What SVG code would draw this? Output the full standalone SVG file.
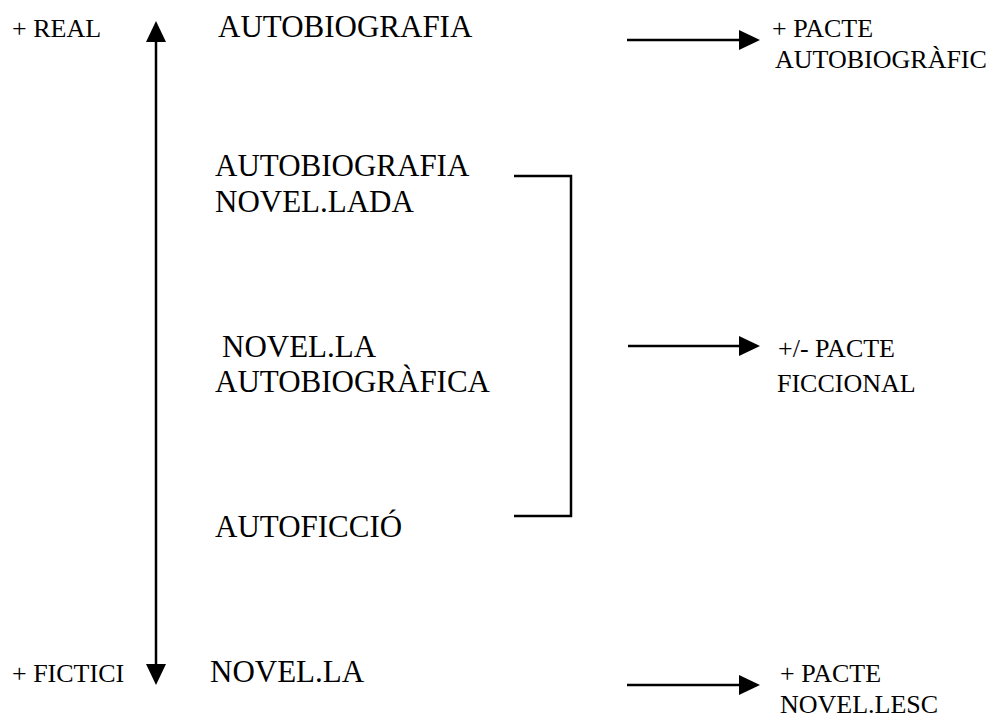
<svg xmlns="http://www.w3.org/2000/svg" width="996" height="715" viewBox="0 0 996 715">
<style>
text{font-family:"Liberation Serif","Times New Roman",serif;fill:#000}
.big{font-size:31px}
.sm{font-size:26px}
.ln{stroke:#000;stroke-width:2.5;fill:none}
</style>
<defs>
<marker id="ah" markerUnits="userSpaceOnUse" markerWidth="22" markerHeight="22" viewBox="0 0 22 22" refX="6" refY="10" orient="auto-start-reverse">
<path d="M0,0 L21,10 L0,20 z" fill="#000"/>
</marker>
</defs>
<rect width="996" height="715" fill="#fff"/>
<g id="connectors">
<line class="ln" x1="156" y1="36" x2="156" y2="670" marker-start="url(#ah)" marker-end="url(#ah)"/>
<line class="ln" x1="627" y1="40" x2="745" y2="40" marker-end="url(#ah)"/>
<line class="ln" x1="628" y1="346" x2="745" y2="346" marker-end="url(#ah)"/>
<line class="ln" x1="627" y1="685" x2="745" y2="685" marker-end="url(#ah)"/>
<polyline class="ln" points="514,176 571,176 571,516 514,516"/>
</g>
<g id="axis-real"><text class="sm" x="12" y="37">+ REAL</text></g>
<g id="axis-ficticí"><text class="sm" x="12" y="682">+ FICTICI</text></g>
<g id="autobiografia"><text class="big" x="218" y="37">AUTOBIOGRAFIA</text></g>
<g id="autobiografia-novellada"><text class="big" x="215" y="176">AUTOBIOGRAFIA</text><text class="big" x="215" y="212">NOVEL.LADA</text></g>
<g id="novella-autobiografica"><text class="big" x="222" y="357">NOVEL.LA</text><text class="big" x="215" y="392">AUTOBIOGRÀFICA</text></g>
<g id="autoficcio"><text class="big" x="215" y="537">AUTOFICCIÓ</text></g>
<g id="novella"><text class="big" x="210" y="682">NOVEL.LA</text></g>
<g id="pacte-autobiografic"><text class="sm" x="772" y="37">+ PACTE</text><text class="sm" x="775" y="68">AUTOBIOGRÀFIC</text></g>
<g id="pacte-ficcional"><text class="sm" x="778" y="357">+/- PACTE</text><text class="sm" x="777" y="392">FICCIONAL</text></g>
<g id="pacte-novellesc"><text class="sm" x="780" y="682">+ PACTE</text><text class="sm" x="780" y="713">NOVEL.LESC</text></g>
</svg>
